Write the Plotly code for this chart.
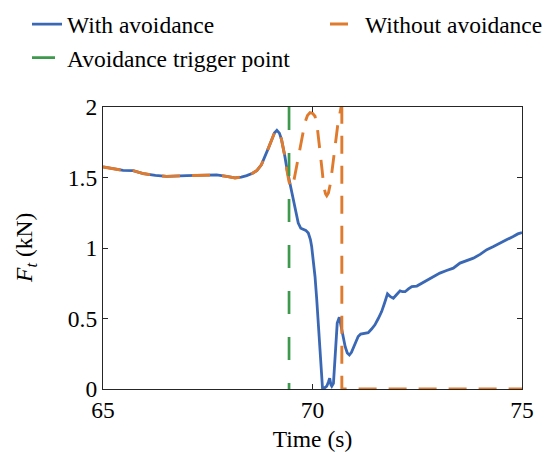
import plotly.graph_objects as go

# Tangential force during the manoeuvre, with and without obstacle avoidance
time_with = [65.00, 65.25, 65.48, 65.72, 65.96, 66.25, 66.52, 67.00, 67.40, 67.71,
             67.95, 68.15, 68.30, 68.43, 68.57, 68.67, 68.78, 68.87, 68.95, 69.03,
             69.09, 69.15, 69.21, 69.26, 69.30, 69.34, 69.39, 69.44, 69.49, 69.54,
             69.60, 69.66, 69.72, 69.78, 69.84, 69.90, 69.95, 69.98, 70.02, 70.06,
             70.10, 70.14, 70.18, 70.22, 70.24, 70.30, 70.34, 70.38, 70.41, 70.44,
             70.46, 70.50, 70.53, 70.56, 70.59, 70.64, 70.70, 70.74, 70.78, 70.83,
             70.88, 70.93, 70.97, 71.03, 71.09, 71.15, 71.21, 71.33, 71.41, 71.49,
             71.57, 71.65, 71.72, 71.79, 71.86, 71.93, 72.01, 72.09, 72.15, 72.21,
             72.29, 72.37, 72.49, 72.61, 72.73, 72.88, 73.04, 73.20, 73.36, 73.52,
             73.68, 73.84, 74.00, 74.16, 74.32, 74.47, 74.63, 74.79, 74.90, 75.00]
force_with = [1.575, 1.560, 1.550, 1.549, 1.528, 1.515, 1.508, 1.513, 1.518, 1.518,
              1.508, 1.497, 1.503, 1.513, 1.530, 1.549, 1.590, 1.650, 1.710, 1.770,
              1.815, 1.835, 1.815, 1.770, 1.720, 1.650, 1.560, 1.485, 1.410, 1.343,
              1.250, 1.177, 1.140, 1.130, 1.125, 1.106, 1.060, 1.011, 0.920, 0.798,
              0.640, 0.467, 0.270, 0.088, 0.000, 0.010, 0.020, 0.050, 0.076, 0.030,
              0.020, 0.040, 0.180, 0.325, 0.467, 0.509, 0.419, 0.350, 0.300, 0.255,
              0.241, 0.260, 0.289, 0.335, 0.372, 0.390, 0.395, 0.400, 0.425, 0.455,
              0.500, 0.549, 0.610, 0.675, 0.655, 0.644, 0.670, 0.696, 0.690, 0.690,
              0.710, 0.727, 0.730, 0.750, 0.774, 0.800, 0.822, 0.840, 0.857, 0.893,
              0.910, 0.928, 0.955, 0.988, 1.010, 1.035, 1.058, 1.082, 1.100, 1.110]

time_without = [65.00, 65.25, 65.48, 65.72, 65.96, 66.25, 66.52, 67.00, 67.40, 67.71,
                67.95, 68.15, 68.30, 68.43, 68.57, 68.67, 68.78, 68.87, 68.95, 69.03,
                69.09, 69.15, 69.21, 69.26, 69.30, 69.34, 69.39, 69.44, 69.48, 69.52,
                69.57, 69.63, 69.70, 69.76, 69.82, 69.88, 69.94, 70.00, 70.06, 70.12,
                70.18, 70.23, 70.27, 70.31, 70.34, 70.38, 70.43, 70.48, 70.53, 70.57,
                70.61, 70.65, 70.68, 70.70, 70.70, 75.00]
force_without = [1.575, 1.560, 1.550, 1.549, 1.528, 1.515, 1.508, 1.513, 1.518, 1.518,
                 1.508, 1.497, 1.503, 1.513, 1.530, 1.549, 1.590, 1.650, 1.710, 1.770,
                 1.815, 1.835, 1.815, 1.770, 1.720, 1.650, 1.550, 1.470, 1.440, 1.430,
                 1.500, 1.600, 1.700, 1.800, 1.890, 1.940, 1.960, 1.955, 1.935, 1.840,
                 1.700, 1.550, 1.437, 1.385, 1.371, 1.390, 1.460, 1.580, 1.720, 1.810,
                 1.890, 1.950, 1.995, 2.300, 0.000, 0.000]

trigger_time = 69.44
trigger_span = [2.0, 0.0]

x_ticks = [65, 70, 75]
x_tick_labels = ["65", "70", "75"]
y_ticks = [0, 0.5, 1, 1.5, 2]
y_tick_labels = ["0", "0.5", "1", "1.5", "2"]

BLUE = "#3a68b4"
ORANGE = "#e07a2c"
GREEN = "#3d9a4c"
FRAME = "#262626"
FONT = "Times New Roman, Liberation Serif, serif"
FS = 23.5

fig = go.Figure()
fig.add_trace(go.Scatter(
    x=time_with, y=force_with, mode="lines", name="With avoidance",
    line=dict(color=BLUE, width=2.8), legend="legend", legendgroup="a",
))
fig.add_trace(go.Scatter(
    x=time_without, y=force_without, mode="lines", name="Without avoidance",
    line=dict(color=ORANGE, width=2.9, dash="18px,12px"), legend="legend2",
))
fig.add_trace(go.Scatter(
    x=[trigger_time, trigger_time], y=trigger_span, mode="lines",
    name="Avoidance trigger point",
    line=dict(color=GREEN, width=2.7, dash="23px,23px"),
    legend="legend", legendgroup="b",
))

axis_common = dict(
    showline=True, linecolor=FRAME, linewidth=1.3, mirror="allticks",
    ticks="inside", ticklen=5, tickwidth=1.1, tickcolor=FRAME,
    showgrid=False, zeroline=False,
    tickfont=dict(family=FONT, size=FS, color="black"),
)

legend_common = dict(
    orientation="v", xref="container", yref="container",
    xanchor="left", yanchor="top",
    font=dict(family=FONT, size=FS, color="black"),
    bgcolor="rgba(0,0,0,0)", traceorder="normal", tracegroupgap=5,
)

fig.update_layout(
    width=558, height=452,
    margin=dict(l=103, r=36, t=107, b=63, autoexpand=False),
    paper_bgcolor="white", plot_bgcolor="white",
    font=dict(family=FONT, size=FS, color="black"),
    xaxis=dict(
        range=[65, 75], tickvals=x_ticks, ticktext=x_tick_labels,
        title=dict(text="Time (s)", font=dict(family=FONT, size=FS), standoff=10),
        **axis_common,
    ),
    yaxis=dict(
        range=[0, 2], tickvals=y_ticks, ticktext=y_tick_labels,
        **axis_common,
    ),
    legend=dict(x=27 / 558, y=0.995, **legend_common),
    legend2=dict(x=325 / 558, y=0.995, **legend_common),
    annotations=[dict(
        text="<i>F</i><sub><i>t</i></sub> (kN)",
        xref="paper", yref="paper", x=-0.184, y=0.5,
        xanchor="center", yanchor="middle", textangle=-90, showarrow=False,
        font=dict(family=FONT, size=FS, color="black"),
    )],
)

fig.write_html("out.html")
